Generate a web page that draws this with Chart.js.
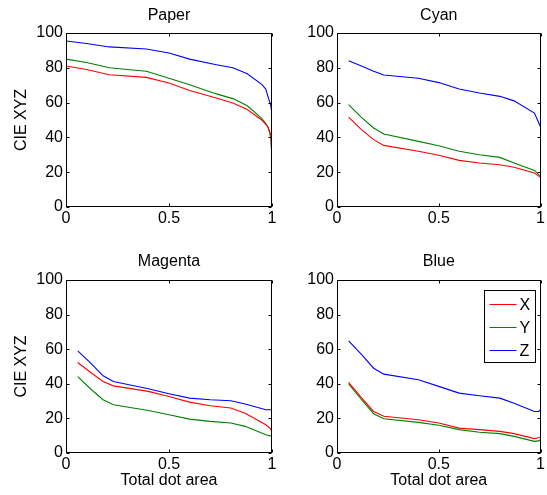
<!DOCTYPE html>
<html>
<head>
<meta charset="utf-8">
<script src="https://cdn.jsdelivr.net/npm/chart.js@4.4.1/dist/chart.umd.min.js"></script>
<style>
  html, body { margin: 0; padding: 0; background: #fff; }
  body { width: 547px; height: 495px; position: relative; overflow: hidden; }
  canvas { position: absolute; }
</style>
</head>
<body>
<canvas id="c1" width="280" height="240" style="left:0px;top:0px;width:280px;height:240px"></canvas>
<canvas id="c2" width="267" height="240" style="left:280px;top:0px;width:267px;height:240px"></canvas>
<canvas id="c3" width="280" height="255" style="left:0px;top:240px;width:280px;height:255px"></canvas>
<canvas id="c4" width="267" height="255" style="left:280px;top:240px;width:267px;height:255px"></canvas>
<script>
// ---- Data ----
const seriesLabels = ['X', 'Y', 'Z'];
const xTicks = [0, 0.5, 1];
const yTicks = [0, 20, 40, 60, 80, 100];

const paperArea = [0, 0.1, 0.21, 0.39, 0.5, 0.6, 0.73, 0.81, 0.88, 0.95, 0.97, 0.98, 0.99, 0.995, 1.0];
const paperX = [81, 79, 76, 74.5, 71.3, 67, 62.6, 59.8, 56, 50, 47.5, 46, 43, 40.6, 27];
const paperY = [85, 83, 80, 78, 74, 70.3, 65, 62.3, 58.2, 51, 48, 46, 42, 38.7, 27];
const paperZ = [95.4, 94, 92, 90.8, 88.5, 85, 81.8, 80, 76.6, 70.5, 67.8, 63.6, 60, 57.8, 53];

const cyanArea = [0.057, 0.12, 0.18, 0.23, 0.4, 0.5, 0.6, 0.7, 0.8, 0.87, 0.97, 1.0];
const cyanX = [51.7, 44.5, 38.7, 35.4, 32, 29.7, 26.8, 25.3, 24.3, 22.8, 19.5, 17];
const cyanY = [58.8, 51.5, 45.4, 42, 37.7, 35.2, 32, 30, 28.5, 25.3, 21, 17.6];
const cyanZ = [84, 81, 78, 75.9, 74, 71.5, 67.8, 65.5, 63.6, 61, 54, 46];

const magentaArea = [0.057, 0.12, 0.18, 0.23, 0.4, 0.5, 0.6, 0.7, 0.8, 0.87, 0.97, 0.99, 1.0];
const magentaX = [52.3, 46.5, 41.3, 38.8, 35.6, 32.7, 29.4, 27.3, 26, 23, 16.3, 14.4, 12.5];
const magentaY = [44.2, 37, 30.8, 27.9, 24.6, 22.1, 19.6, 18.3, 17.3, 15.4, 10.6, 10, 9.6];
const magentaZ = [59, 52, 44.6, 41.3, 37.1, 34.2, 31.7, 30.8, 30.2, 28.3, 25, 25, 25];

const blueArea = [0.057, 0.12, 0.18, 0.23, 0.4, 0.5, 0.6, 0.7, 0.8, 0.87, 0.97, 0.99, 1.0];
const blueX = [40.8, 32, 24, 21.2, 19.2, 17.3, 14.4, 13.5, 12.5, 11.2, 8.3, 8.8, 9.2];
const blueY = [40, 31, 22.7, 19.8, 17.7, 16, 13.5, 12, 11.2, 9.6, 6.7, 7, 7.7];
const blueZ = [64.8, 57, 49, 45.6, 42.3, 38.5, 34.6, 33.1, 31.7, 28.8, 24, 24, 25];

const lineColors = ['#ff0000', '#008000', '#0000ff'];

// ---- Setup ----
const FONT = '"Liberation Sans", Arial, Helvetica, sans-serif';
const FS = 16;
Chart.defaults.font.family = FONT;
Chart.defaults.font.size = FS;
Chart.defaults.color = '#000';

const boxPlugin = {
  id: 'matlabBox',
  afterDatasetsDraw(chart) {
    const {ctx, chartArea: a, scales} = chart;
    ctx.save();
    ctx.strokeStyle = '#000';
    ctx.lineWidth = 1;
    const L = Math.round(a.left) + 0.5, R = Math.round(a.right) - 0.5;
    const T = Math.round(a.top) + 0.5, B = Math.round(a.bottom) - 0.5;
    ctx.strokeRect(L, T, R - L, B - T);
    const tl = 3;
    ctx.beginPath();
    scales.x.ticks.forEach(t => {
      const px = Math.round(scales.x.getPixelForValue(t.value)) + 0.5;
      ctx.moveTo(px, B); ctx.lineTo(px, B - tl);
      ctx.moveTo(px, T); ctx.lineTo(px, T + tl);
    });
    scales.y.ticks.forEach(t => {
      const py = Math.round(scales.y.getPixelForValue(t.value)) + 0.5;
      ctx.moveTo(L, py); ctx.lineTo(L + tl, py);
      ctx.moveTo(R, py); ctx.lineTo(R - tl, py);
    });
    ctx.stroke();
    ctx.restore();
  }
};

const legendBoxPlugin = {
  id: 'legendBox',
  afterDraw(chart, args, opts) {
    if (!opts.show) return;
    const {ctx, chartArea: a} = chart;
    ctx.save();
    const x0 = Math.round(a.right) - 57 + 0.5, y0 = Math.round(a.top) + 10 + 0.5;
    const w = 51, h = 72;
    ctx.fillStyle = '#fff';
    ctx.fillRect(x0, y0, w, h);
    ctx.strokeStyle = '#000';
    ctx.lineWidth = 1;
    ctx.strokeRect(x0, y0, w, h);
    ctx.font = FS + 'px ' + FONT;
    ctx.textBaseline = 'middle';
    ctx.textAlign = 'left';
    chart.data.datasets.forEach((ds, i) => {
      const yy = Math.round(y0 + 13 + i * 23) + 0.5;
      ctx.strokeStyle = ds.borderColor;
      ctx.beginPath();
      ctx.moveTo(x0 + 5, yy); ctx.lineTo(x0 + 32, yy);
      ctx.stroke();
      ctx.fillStyle = '#000';
      ctx.fillText(ds.label, x0 + 35, yy + 1);
    });
    ctx.restore();
  }
};

function makeChart(id, title, area, sx, sy, sz, o) {
  const vals = [sx, sy, sz];
  return new Chart(document.getElementById(id), {
    type: 'line',
    data: {
      datasets: vals.map((v, i) => ({
        label: seriesLabels[i],
        data: area.map((a, k) => ({x: a, y: v[k]})),
        borderColor: lineColors[i],
        backgroundColor: lineColors[i],
        borderWidth: 1.1,
        pointRadius: 0,
        tension: 0,
        fill: false
      }))
    },
    options: {
      responsive: false,
      animation: false,
      events: [],
      layout: { padding: { left: 0, right: o.padRight, top: 0, bottom: 0 } },
      plugins: {
        legend: { display: false },
        tooltip: { enabled: false },
        title: {
          display: true, text: title, fullSize: false,
          font: { size: FS, weight: 'normal' }, color: '#000',
          padding: { top: o.titleTop, bottom: o.titleBottom }
        },
        legendBox: { show: !!o.legend }
      },
      scales: {
        x: {
          type: 'linear', min: 0, max: 1,
          afterBuildTicks: s => { s.ticks = xTicks.map(v => ({value: v})); },
          afterFit: s => { s.height = o.xHeight; },
          grid: { display: false, drawTicks: false },
          border: { display: false },
          ticks: { padding: 2, maxRotation: 0, color: '#000', font: { size: FS }, callback: v => String(v) },
          title: { display: !!o.xTitle, text: o.xTitle || '', color: '#000', font: { size: FS }, padding: { top: 0, bottom: 4.4 } }
        },
        y: {
          type: 'linear', min: 0, max: 100,
          afterBuildTicks: s => { s.ticks = yTicks.map(v => ({value: v})); },
          afterFit: s => { s.width = o.yWidth; },
          grid: { display: false, drawTicks: false },
          border: { display: false },
          ticks: { padding: 3, color: '#000', font: { size: FS }, callback: v => String(v) },
          title: { display: !!o.yTitle, text: o.yTitle || '', color: '#000', font: { size: FS }, padding: { top: 12.4, bottom: 0 } }
        }
      }
    },
    plugins: [boxPlugin, legendBoxPlugin]
  });
}

makeChart('c1', 'Paper', paperArea, paperX, paperY, paperZ,
  { yTitle: 'CIE XYZ', yWidth: 66, padRight: 8, titleTop: 5.9, titleBottom: 7.9, xHeight: 33 });
makeChart('c2', 'Cyan', cyanArea, cyanX, cyanY, cyanZ,
  { yWidth: 57, padRight: 5, titleTop: 5.9, titleBottom: 7.9, xHeight: 33 });
makeChart('c3', 'Magenta', magentaArea, magentaX, magentaY, magentaZ,
  { yTitle: 'CIE XYZ', xTitle: 'Total dot area', yWidth: 66, padRight: 8, titleTop: 11.9, titleBottom: 8.9, xHeight: 42 });
makeChart('c4', 'Blue', blueArea, blueX, blueY, blueZ,
  { xTitle: 'Total dot area', yWidth: 57, padRight: 5, titleTop: 11.9, titleBottom: 8.9, xHeight: 42, legend: true });
</script>
</body>
</html>
